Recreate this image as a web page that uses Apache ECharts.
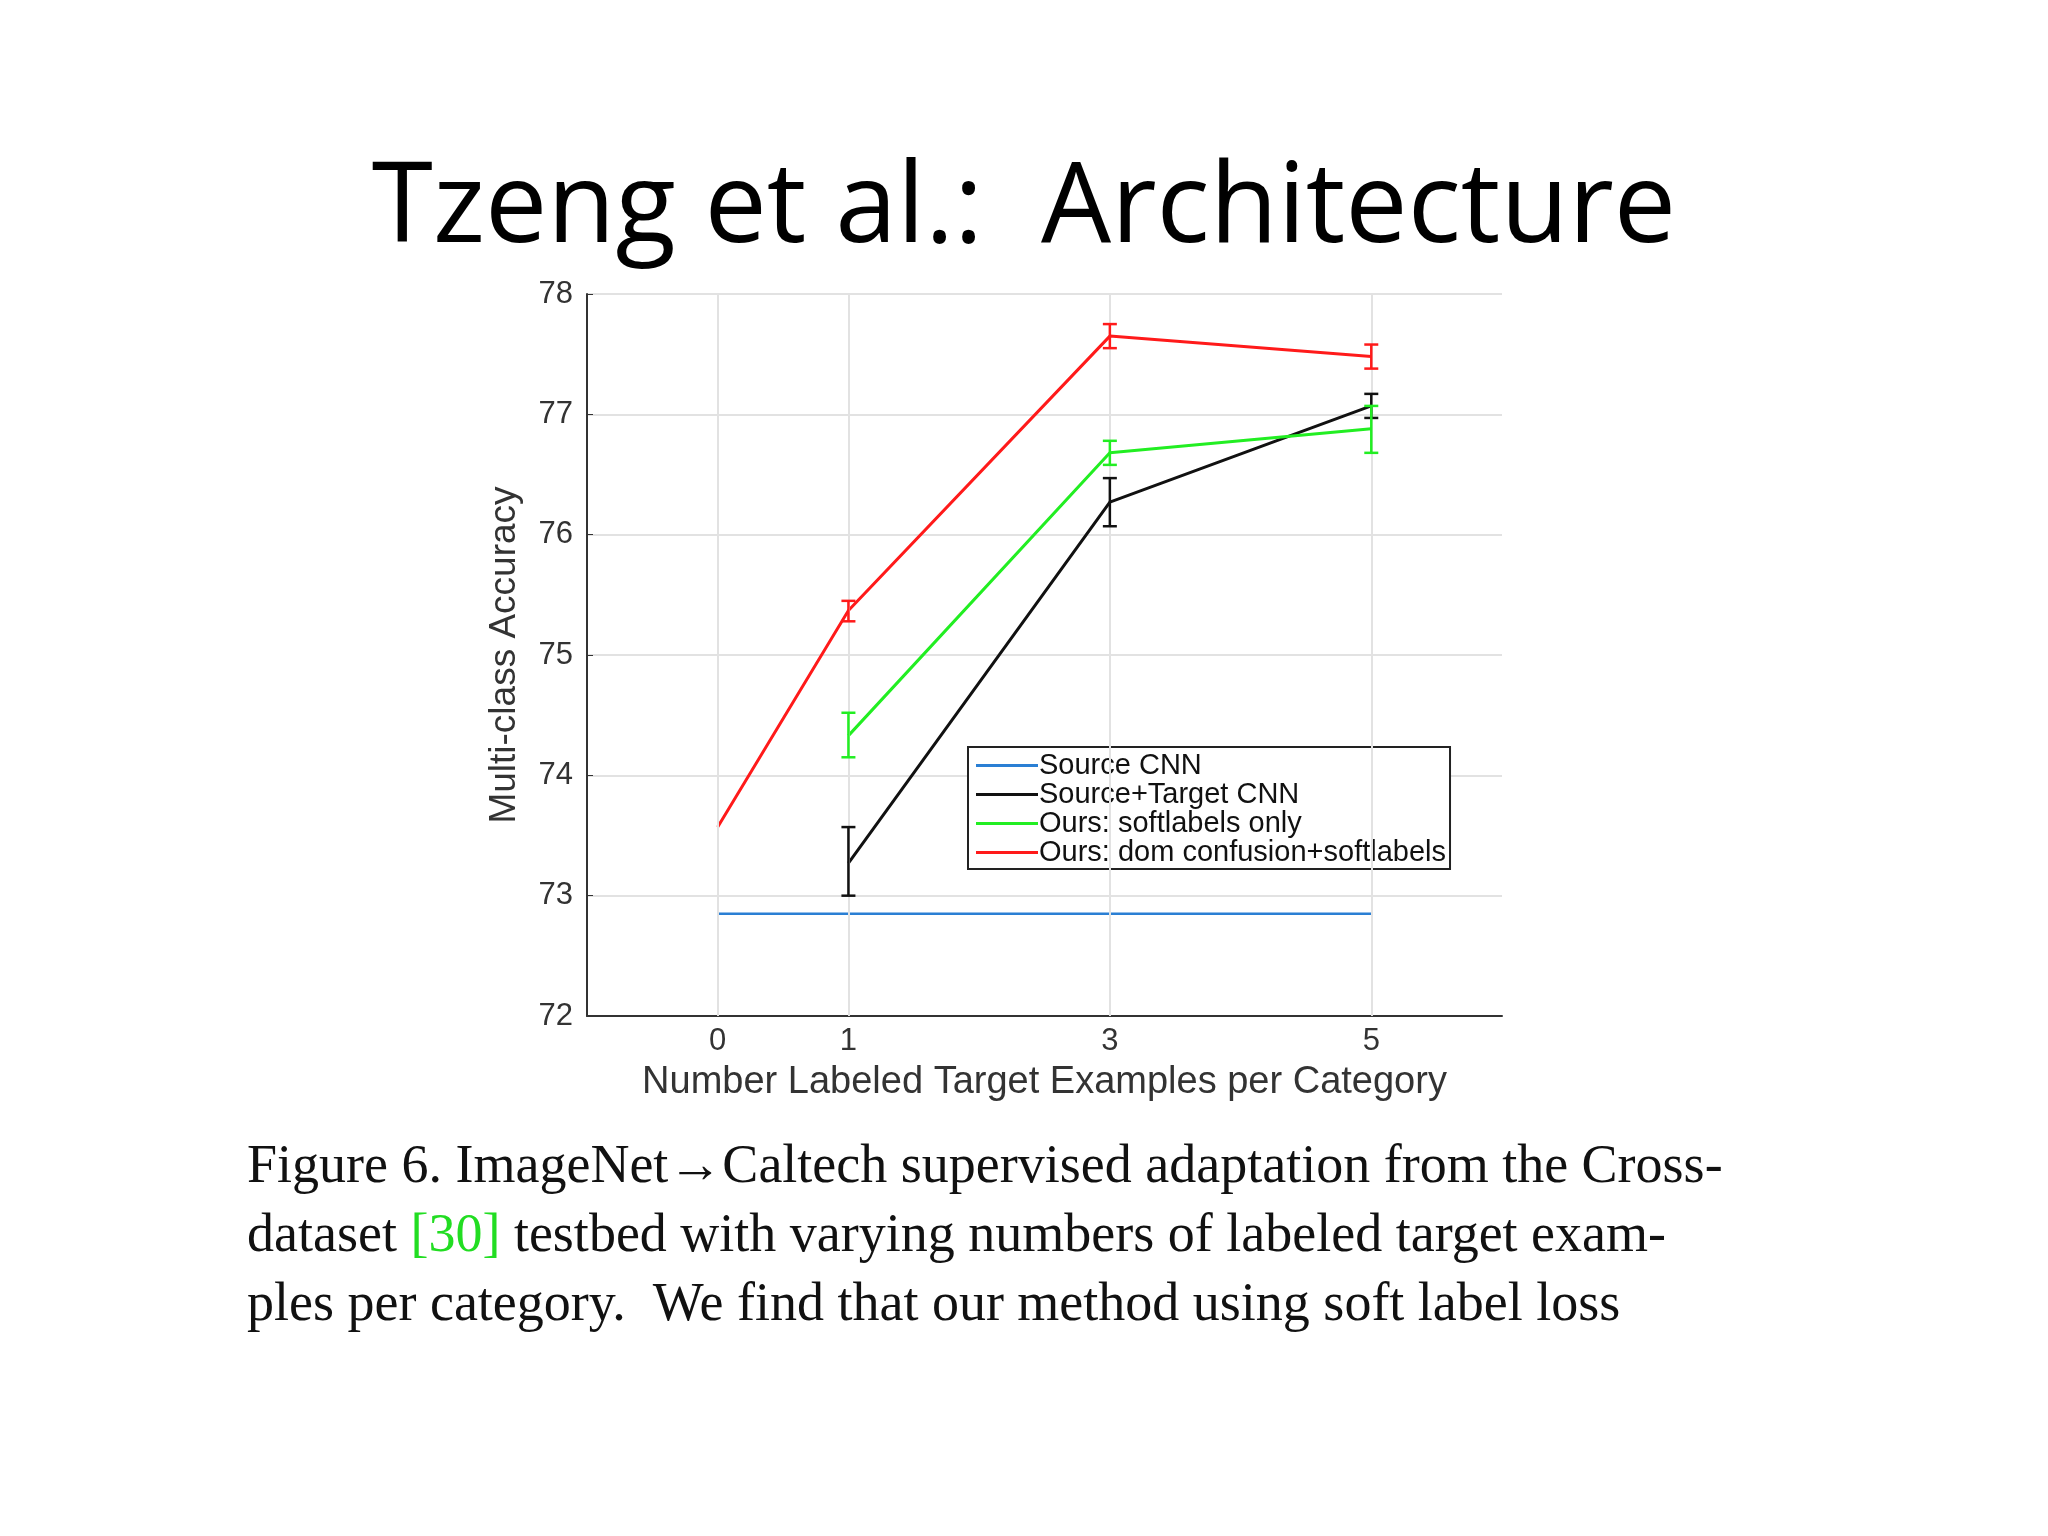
<!DOCTYPE html>
<html><head><meta charset="utf-8">
<script src="https://cdn.jsdelivr.net/npm/echarts@6/dist/echarts.min.js"></script>
<style>html,body{margin:0;padding:0;background:#fff}#c{width:2048px;height:1536px}</style>
</head><body><div id="c"></div>
<script>
const seriesNames = ['Source CNN','Source+Target CNN','Ours: softlabels only','Ours: dom confusion+softlabels'];
const colors = ['#2a7fd4','#111111','#22ee22','#ff1a1a'];
const sourceCNN = [[0,72.85],[5,72.85]];
const sourceTarget = [[1,73.27],[3,76.27],[5,77.07]];
const sourceTargetErr = [[1,73.0,73.57],[3,76.07,76.47],[5,76.97,77.17]];
const softlabels = [[1,74.33],[3,76.68],[5,76.88]];
const softlabelsErr = [[1,74.15,74.52],[3,76.58,76.78],[5,76.68,77.07]];
const domConf = [[0,73.57],[1,75.37],[3,77.65],[5,77.48]];
const domConfErr = [[1,75.28,75.45],[3,77.55,77.75],[5,77.38,77.58]];
const xTicks = [0,1,3,5];
const yTicks = [72,73,74,75,76,77,78];

function errSeries(data, color){
  return {type:'custom', silent:true, z:5, data:data,
    renderItem:function(p,api){
      const x=api.value(0), lo=api.coord([x,api.value(1)]), hi=api.coord([x,api.value(2)]);
      const w=7, st={stroke:color,lineWidth:2.5};
      return {type:'group',children:[
        {type:'line',shape:{x1:lo[0],y1:lo[1],x2:hi[0],y2:hi[1]},style:st},
        {type:'line',shape:{x1:lo[0]-w,y1:lo[1],x2:lo[0]+w,y2:lo[1]},style:st},
        {type:'line',shape:{x1:hi[0]-w,y1:hi[1],x2:hi[0]+w,y2:hi[1]},style:st}]};
    }};
}
function lineSeries(name,data,color,w){
  return {name:name,type:'line',data:data,symbol:'none',lineStyle:{color:color,width:w},itemStyle:{color:color},z:4};
}
const chart = echarts.init(document.getElementById('c'));
chart.setOption({
  backgroundColor:'#fff',
  animation:false,
  title:{text:'Tzeng et al.:  Architecture',left:'center',top:150,
    textStyle:{fontFamily:'Open Sans',fontWeight:'normal',fontSize:111,color:'#000'}},
  grid:{left:587,top:294,width:915,height:722},
  legend:{orient:'vertical',left:968,top:747,width:500,
    data:seriesNames,itemWidth:62,itemHeight:3,itemGap:0,
    backgroundColor:'#fff',borderColor:'#222',borderWidth:2,padding:[4,4,2,8],
    textStyle:{fontFamily:'Liberation Sans',fontSize:29,color:'#111',padding:[0,0,0,-4]},
    icon:'rect'},
  xAxis:{type:'value',min:-1,max:6,interval:1,
    name:'Number Labeled Target Examples per Category',nameLocation:'middle',nameGap:48,
    nameTextStyle:{fontFamily:'Liberation Sans',fontSize:38,color:'#333'},
    axisLine:{onZero:false,lineStyle:{color:'#333',width:2}},axisTick:{show:false},
    axisLabel:{fontFamily:'Liberation Sans',fontSize:31,color:'#333',margin:10,
      formatter:v=>xTicks.indexOf(v)>=0?String(v):''},
    splitLine:{show:false}},
  yAxis:{type:'value',min:72,max:78,interval:1,
    name:'Multi-class Accuracy',nameLocation:'middle',nameGap:64,
    nameTextStyle:{fontFamily:'Liberation Sans',fontSize:37,color:'#333'},
    axisLine:{show:true,onZero:false,lineStyle:{color:'#333',width:2}},
    axisTick:{show:true,length:-6,lineStyle:{color:'#333'}},
    axisLabel:{fontFamily:'Liberation Sans',fontSize:31,color:'#333',margin:14},
    splitLine:{lineStyle:{color:'#e2e2e2',width:2}}},
  series:[
    {type:'line',data:[],markLine:{silent:true,symbol:'none',label:{show:false},
      lineStyle:{color:'#e2e2e2',width:2,type:'solid'},data:xTicks.map(v=>({xAxis:v}))}},
    lineSeries(seriesNames[0],sourceCNN,colors[0],2.5),
    lineSeries(seriesNames[1],sourceTarget,colors[1],3),
    lineSeries(seriesNames[2],softlabels,colors[2],3),
    lineSeries(seriesNames[3],domConf,colors[3],3),
    errSeries(sourceTargetErr,colors[1]),
    errSeries(softlabelsErr,colors[2]),
    errSeries(domConfErr,colors[3])
  ],
  graphic:[{type:'text',left:247,top:1133,style:{
    text:'Figure 6. ImageNet\u2192Caltech supervised adaptation from the Cross-\ndataset {g|[30]} testbed with varying numbers of labeled target exam-\nples per category.  We find that our method using soft label loss',
    font:'54px "Liberation Serif"',fill:'#111',lineHeight:69,
    rich:{g:{fill:'#22dd22',font:'54px "Liberation Serif"'}}}}]
});
</script></body></html>
